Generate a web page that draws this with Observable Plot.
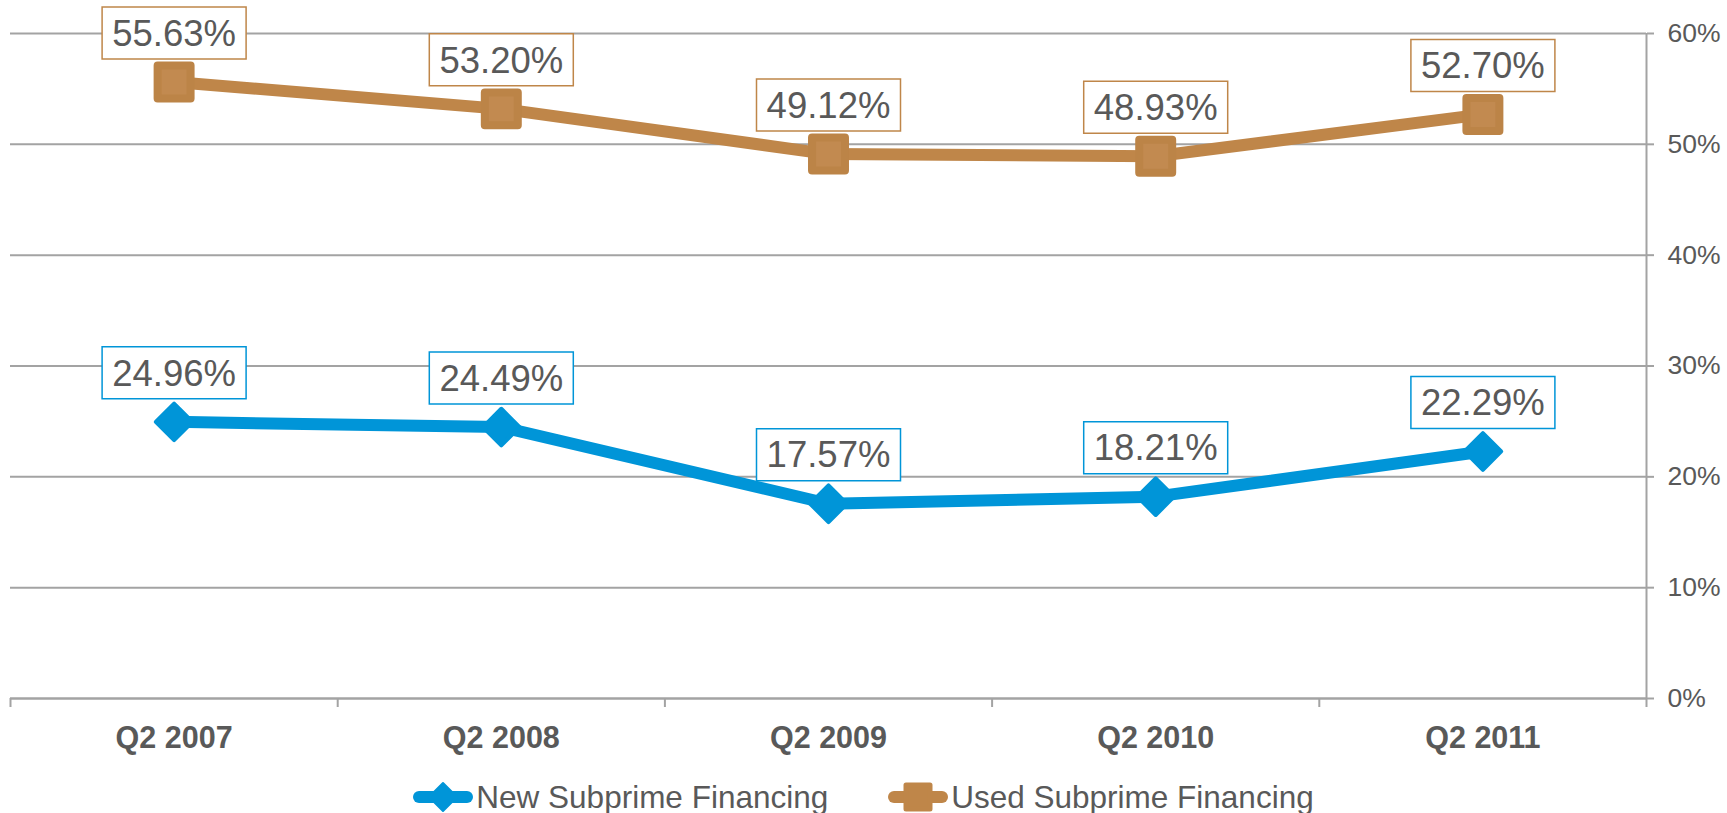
<!DOCTYPE html>
<html><head><meta charset="utf-8">
<script src="https://cdn.jsdelivr.net/npm/d3@7"></script>
<script src="https://cdn.jsdelivr.net/npm/@observablehq/plot@0.6"></script>
<style>
body{margin:0;background:#fff;font-family:"Liberation Sans",Arial,sans-serif;}
#legend{display:flex;justify-content:center;align-items:center;height:36px;margin-top:19px;font-size:31.5px;color:#595959;}
.item{display:flex;align-items:center;}
.item svg{display:block;margin-right:3px;}
.gap{width:60px;}
</style></head><body>
<div id="chart"></div>
<div id="legend"></div>
<script>
const categories = ["Q2 2007","Q2 2008","Q2 2009","Q2 2010","Q2 2011"];
const newSubprime = [24.96, 24.49, 17.57, 18.21, 22.29];
const usedSubprime = [55.63, 53.20, 49.12, 48.93, 52.70];
const yTicks = [0, 10, 20, 30, 40, 50, 60];
const seriesNames = ["New Subprime Financing", "Used Subprime Financing"];
const seriesColors = ["#0095d8", "#bf8649"];

const rows = categories.flatMap((c, i) => [
  {i, cat: c, series: seriesNames[0], v: newSubprime[i]},
  {i, cat: c, series: seriesNames[1], v: usedSubprime[i]}
]);
const newRows = rows.filter(d => d.series === seriesNames[0]);
const usedRows = rows.filter(d => d.series === seriesNames[1]);
const catIdx = d3.range(categories.length);
const boundaries = d3.range(categories.length + 1).map(i => i - 0.5);

const grid = "#a3a3a3";
const textColor = "#595959";
const labelBox = {draw(ctx) { ctx.rect(-72, -26, 144, 52); }};

const chart = Plot.plot({
  width: 1727, height: 760,
  marginLeft: 10, marginRight: 81, marginTop: 33, marginBottom: 62,
  x: {domain: [boundaries[0], boundaries[boundaries.length - 1]], axis: null},
  y: {domain: [0, 60], axis: null},
  color: {domain: seriesNames, range: seriesColors},
  style: {fontFamily: "'Liberation Sans', Arial, sans-serif", background: "#fff", overflow: "visible"},
  marks: [
    Plot.gridY(yTicks, {stroke: grid, strokeOpacity: 1, strokeWidth: 2}),
    Plot.ruleY([0], {stroke: grid, strokeWidth: 2}),
    Plot.ruleX([boundaries[boundaries.length - 1]], {y1: 0, y2: 60, stroke: grid, strokeWidth: 2}),
    Plot.axisY({anchor: "right", ticks: yTicks, tickSize: 7, tickPadding: 14, tickFormat: d => d + "%",
      stroke: grid, strokeWidth: 2, fill: textColor, fontSize: 26.5, label: null}),
    Plot.axisX({ticks: boundaries, tickSize: 9, tickFormat: () => "", stroke: grid, strokeWidth: 2, label: null}),
    Plot.axisX({ticks: catIdx, tickSize: 0, tickPadding: 28, tickFormat: i => categories[i],
      fill: textColor, fontSize: 30.5, fontWeight: "bold", label: null}),
    Plot.line(rows, {x: "i", y: "v", z: "series", stroke: "series", strokeWidth: 12, strokeLinejoin: "round"}),
    Plot.dot(newRows, {x: "i", y: "v", symbol: "diamond2", r: 16.5, fill: seriesColors[0], stroke: seriesColors[0], strokeWidth: 4, strokeLinejoin: "round"}),
    Plot.dot(usedRows, {x: "i", y: "v", symbol: "square", r: 18.6, fill: "#c28a50", stroke: "#bc8447", strokeWidth: 8, strokeLinejoin: "round"}),
    Plot.dot(rows, {x: "i", y: "v", dy: -49, symbol: labelBox, fill: "#fff", stroke: "series", strokeWidth: 1.5}),
    Plot.text(rows, {x: "i", y: "v", dy: -48, text: d => d.v.toFixed(2) + "%", fontSize: 36.5, fill: textColor})
  ]
});
document.getElementById("chart").appendChild(chart);

// legend
const legend = document.getElementById("legend");
function swatch(kind, color) {
  const ns = "http://www.w3.org/2000/svg";
  const s = document.createElementNS(ns, "svg");
  s.setAttribute("width", 60); s.setAttribute("height", 34);
  const l = document.createElementNS(ns, "line");
  l.setAttribute("x1", 6); l.setAttribute("x2", 54); l.setAttribute("y1", 17); l.setAttribute("y2", 17);
  l.setAttribute("stroke", color); l.setAttribute("stroke-width", 12); l.setAttribute("stroke-linecap", "round");
  s.appendChild(l);
  const p = document.createElementNS(ns, "path");
  if (kind === "diamond") p.setAttribute("d", "M30,3L44,17L30,31L16,17Z");
  else p.setAttribute("d", "M18,5H42V29H18Z");
  p.setAttribute("fill", color); p.setAttribute("stroke", color);
  p.setAttribute("stroke-width", kind === "diamond" ? 2 : 5); p.setAttribute("stroke-linejoin", "round");
  s.appendChild(p);
  return s;
}
seriesNames.forEach((name, k) => {
  if (k > 0) { const g = document.createElement("div"); g.className = "gap"; legend.appendChild(g); }
  const item = document.createElement("div"); item.className = "item";
  item.appendChild(swatch(k === 0 ? "diamond" : "square", seriesColors[k]));
  const t = document.createElement("span"); t.textContent = name; item.appendChild(t);
  legend.appendChild(item);
});
</script>
</body></html>
